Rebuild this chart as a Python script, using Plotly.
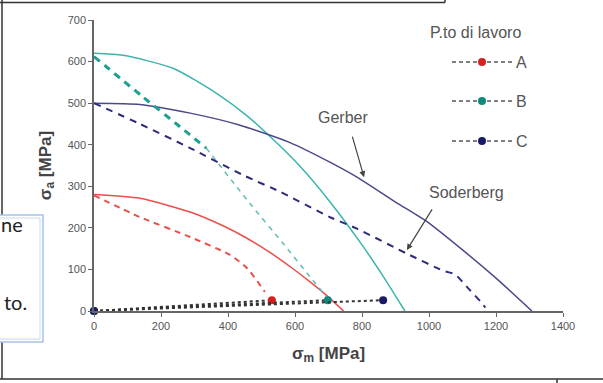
import plotly.graph_objects as go

# Gerber curves (solid)
gerber_a_x = [0, 137, 287, 385, 450, 525, 600, 645, 695, 745]
gerber_a_y = [280, 271, 238, 205, 178, 141, 98, 70, 37, 0]
gerber_b_x = [0, 87, 236, 367, 456, 546, 615, 700, 800, 870, 928]
gerber_b_y = [620, 615, 584, 523, 470, 404, 348, 267, 159, 75, 0]
gerber_c_x = [0, 137, 287, 436, 585, 704, 785, 900, 994, 1100, 1200, 1307]
gerber_c_y = [500, 497, 476, 447, 405, 358, 322, 262, 215, 147, 79, 0]

# Soderberg / yield curves (dashed)
soder_a_x = [0, 137, 287, 406, 457, 510]
soder_a_y = [278, 226, 178, 135, 103, 46]
soder_b1_x = [0, 146, 257, 335]
soder_b1_y = [612, 515, 443, 392]
soder_b2_x = [335, 466, 564, 636, 698]
soder_b2_y = [392, 258, 163, 91, 30]
soder_c_x = [0, 137, 287, 450, 555, 704, 785, 934, 1042, 1078, 1113, 1158, 1168]
soder_c_y = [500, 450, 392, 325, 287, 226, 198, 138, 97, 88, 58, 19, 8]

# Working points (load lines from origin)
series_names = ["A", "B", "C"]
point_sm = [531, 698, 863]
point_sa = [26, 26, 26]

x_ticks = [0, 200, 400, 600, 800, 1000, 1200, 1400]
y_ticks = [0, 100, 200, 300, 400, 500, 600, 700]

FONT = "Liberation Sans, Arial, sans-serif"
W, H = 603, 383
def px(x): return (x - 94) / 469
def py(y): return (311 - y) / 291

fig = go.Figure()

def line(x, y, color, width, dash="solid"):
    fig.add_trace(go.Scatter(x=x, y=y, mode="lines", showlegend=False, hoverinfo="skip",
                             line=dict(color=color, width=width, dash=dash, shape="spline", smoothing=0.6),
                             cliponaxis=False))

line(gerber_a_x, gerber_a_y, "#e8504a", 1.5)
line(gerber_b_x, gerber_b_y, "#3ab5ac", 1.5)
line(gerber_c_x, gerber_c_y, "#4a4a88", 1.5)
line(soder_a_x, soder_a_y, "#e8504a", 2, "6px,5px")
line(soder_b1_x, soder_b1_y, "#1f9f8f", 3, "7px,6px")
line(soder_b2_x, soder_b2_y, "#5fbdb3", 1.5, "5px,5px")
line(soder_c_x, soder_c_y, "#2c2c7a", 2, "7px,6px")

marker_colors = ["#d42020", "#0e8a7c", "#1a1a6a"]
for name, sm, sa, mc in zip(series_names, point_sm, point_sa, marker_colors):
    fig.add_trace(go.Scatter(
        x=[0, sm], y=[0, sa], mode="lines+markers", name=name, showlegend=False,
        line=dict(color="#333333", width=2, dash="3px,3px"),
        marker=dict(color=mc, size=8, symbol="circle"),
        cliponaxis=False))

# legend drawn on an overlay axis in pixel units
legend_rows = [62, 101, 141]
for name, mc, ry in zip(series_names, marker_colors, legend_rows):
    fig.add_trace(go.Scatter(
        x=[452, 512], y=[ry, ry], mode="lines", xaxis="x2", yaxis="y2", showlegend=False,
        hoverinfo="skip", line=dict(color="#555", width=1.5, dash="4px,3px")))
    fig.add_trace(go.Scatter(
        x=[482], y=[ry], mode="markers", xaxis="x2", yaxis="y2", showlegend=False,
        hoverinfo="skip", marker=dict(color=mc, size=8)))
    fig.add_annotation(xref="x2", yref="y2", x=514, y=ry, text=name, xanchor="left",
                       showarrow=False, font=dict(family=FONT, size=16, color="#555"))

ANN_FONT = dict(family=FONT, size=16, color="#555")
fig.add_annotation(x=743, y=466, text="Gerber", showarrow=False, font=ANN_FONT)
fig.add_annotation(x=806, y=322, ax=770, ay=423, axref="x", ayref="y", text="",
                   showarrow=True, arrowhead=2, arrowsize=1, arrowwidth=1.2, arrowcolor="#444")
fig.add_annotation(x=1113, y=286, text="Soderberg", showarrow=False, font=ANN_FONT)
fig.add_annotation(x=934, y=147, ax=1012, ay=248, axref="x", ayref="y", text="",
                   showarrow=True, arrowhead=2, arrowsize=1, arrowwidth=1.2, arrowcolor="#444")

fig.add_annotation(xref="paper", yref="paper", x=px(475), y=py(33), xanchor="center", yanchor="middle",
                   text="P.to di lavoro", showarrow=False, font=ANN_FONT)

# page frame & overlapping text box (paper pixels)
for (x0, y0, x1, y1) in [(0, 2.5, 445, 2.5), (445, 0, 445, 2.5), (2, 0, 2, 379), (0, 379, 603, 379), (557, 379, 557, 383)]:
    fig.add_shape(type="line", xref="paper", yref="paper", x0=px(x0), y0=py(y0), x1=px(x1), y1=py(y1),
                  line=dict(color="#333", width=1.5))
fig.add_shape(type="rect", xref="paper", yref="paper", x0=px(-3), y0=py(215), x1=px(43), y1=py(342),
              line=dict(color="#a9c2e6", width=1.5), fillcolor="white")
fig.add_shape(type="rect", xref="paper", yref="paper", x0=px(-3), y0=py(218), x1=px(40), y1=py(339),
              line=dict(color="#c8d8f0", width=1), fillcolor="white")
fig.add_annotation(xref="paper", yref="paper", x=px(25), y=py(238), xanchor="right", text="ne",
                   showarrow=False, font=dict(family="Lato, Open Sans, sans-serif", size=20, color="#222"))
fig.add_annotation(xref="paper", yref="paper", x=px(29), y=py(316), xanchor="right", text="to.",
                   showarrow=False, font=dict(family="Lato, Open Sans, sans-serif", size=20, color="#222"))

axis_common = dict(showgrid=False, zeroline=False, showline=True, linecolor="#666", linewidth=1.5,
                   ticks="outside", ticklen=4, tickcolor="#666", tickwidth=1.2,
                   tickfont=dict(family=FONT, size=11, color="#555"))
TITLE_FONT = dict(family=FONT, size=17, color="#444")

fig.update_layout(
    width=W, height=H,
    margin=dict(l=94, r=40, t=20, b=72),
    paper_bgcolor="white", plot_bgcolor="white",
    font=dict(family=FONT),
    showlegend=False,
    xaxis=dict(range=[0, 1400], tickvals=x_ticks, ticktext=[str(v) for v in x_ticks],
               title=dict(text="<b>σ<sub>m</sub> [MPa]</b>", font=TITLE_FONT, standoff=16),
               **axis_common),
    yaxis=dict(range=[0, 700], tickvals=y_ticks, ticktext=[str(v) for v in y_ticks],
               title=dict(text="<b>σ<sub>a</sub> [MPa]</b>", font=TITLE_FONT, standoff=12),
               **axis_common),
    xaxis2=dict(overlaying="x", range=[94, 563], visible=False, fixedrange=True),
    yaxis2=dict(overlaying="y", range=[311, 20], visible=False, fixedrange=True),
)

fig.write_html("out.html", post_script="document.body.style.margin='0';",
               config={"displayModeBar": False})
